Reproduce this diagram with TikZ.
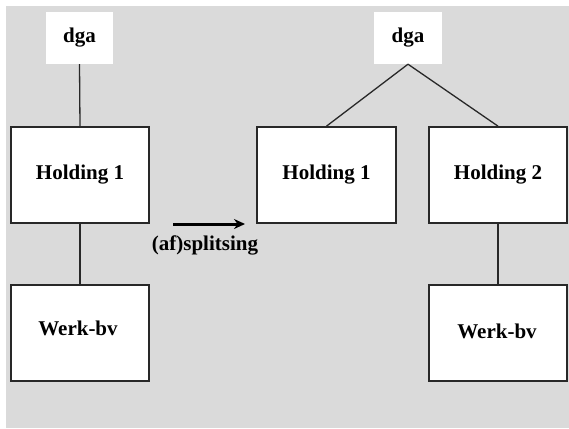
\documentclass[tikz,border=0pt]{standalone}
\usepackage{fontspec}
\setmainfont{Liberation Serif}
\usetikzlibrary{arrows.meta}
\definecolor{bggray}{RGB}{218,218,218}
\definecolor{edgegray}{RGB}{40,40,40}
\begin{document}
\begin{tikzpicture}[x=1pt,y=-1pt,
  lbl/.style={font=\fontsize{21}{25}\selectfont\bfseries},
  boxstyle/.style={draw=edgegray,line width=1.7pt,fill=white,inner sep=0pt,lbl},
  topstyle/.style={fill=white,inner sep=0pt,lbl},
  link/.style={draw=edgegray,line width=1.3pt}]
\useasboundingbox (0,0) rectangle (569,428);
\fill[white] (0,0) rectangle (569,428);
\fill[bggray] (6,6) rectangle (569,428);
% left side
\node[topstyle,minimum width=67pt,minimum height=52pt] (dgaL) at (79.5,38) {dga};
\node[boxstyle,minimum width=138pt,minimum height=96pt] (h1L) at (80,175) {Holding 1};
\node[boxstyle,minimum width=138pt,minimum height=96pt] (wL) at (80,333) {};
\node[lbl] (wLt) at (78,328) {Werk-bv};
\draw[link] (dgaL.south) -- (h1L.north);
\draw[link] (h1L.south) -- (wL.north);
% arrow
\coordinate (a1) at (173,224);
\coordinate (a2) at (245,224);
\draw[line width=3pt,-{Stealth[length=11pt,width=10pt]}] (a1) -- (a2);
\node[lbl] (lab) at (205,245) {(af)splitsing};
% right side
\node[topstyle,minimum width=68pt,minimum height=52pt] (dgaR) at (408,38) {dga};
\node[boxstyle,minimum width=139pt,minimum height=96pt] (h1R) at (326.5,175) {Holding 1};
\node[boxstyle,minimum width=138pt,minimum height=96pt] (h2R) at (498,175) {Holding 2};
\node[boxstyle,minimum width=138pt,minimum height=96pt] (wR) at (498,333) {};
\node[lbl] (wRt) at (497,331) {Werk-bv};
\draw[link] (dgaR.south) -- (h1R.north);
\draw[link] (dgaR.south) -- (h2R.north);
\draw[link] (h2R.south) -- (wR.north);
\end{tikzpicture}
\end{document}
